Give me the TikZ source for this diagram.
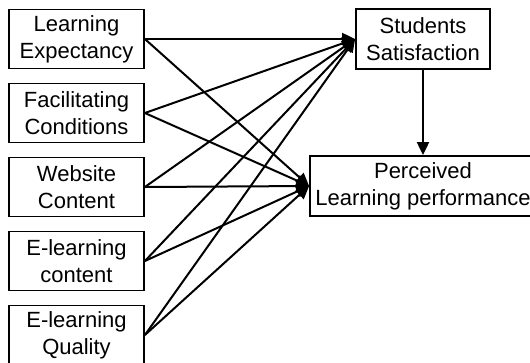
\documentclass[tikz,border=0pt]{standalone}
\usepackage{fontspec}
\setmainfont{Liberation Sans}
\usetikzlibrary{arrows.meta}
\begin{document}
\begin{tikzpicture}[x=1pt,y=-1pt]
	\tikzstyle{every node}+=[inner sep=0pt]
	\tikzstyle{factor}=[draw=black, line width=1.8pt, align=center, minimum width=135pt, minimum height=59pt, font=\fontsize{22}{27}\selectfont]
	\tikzstyle{link}=[black, line width=2pt, -{Triangle[length=13pt,width=12pt]}]
	\useasboundingbox (0,0) rectangle (530,362);
	\node [factor] (le) at (76.5,39) {Learning\\Expectancy};
	\node [factor] (fc) at (76.5,113) {Facilitating\\Conditions};
	\node [factor] (wc) at (76.5,187) {Website\\Content};
	\node [factor] (ec) at (76.5,261) {E-learning\\content};
	\node [factor] (eq) at (76.5,335) {E-learning\\Quality};
	\node [factor, minimum width=134pt, minimum height=60pt] (ss) at (423,39) {Students\\Satisfaction};
	\node [factor, minimum width=226pt, minimum height=60pt] (plp) at (423,186) {Perceived\\Learning performance};
	\draw [link] (le.east) -- (ss.west);
	\draw [link] (fc.east) -- (ss.west);
	\draw [link] (wc.east) -- (ss.west);
	\draw [link] (ec.east) -- (ss.west);
	\draw [link] (eq.east) -- (ss.west);
	\draw [link] (le.east) -- (plp.west);
	\draw [link] (fc.east) -- (plp.west);
	\draw [link] (wc.east) -- (plp.west);
	\draw [link] (ec.east) -- (plp.west);
	\draw [link] (eq.east) -- (plp.west);
	\draw [link] (ss.south) -- (plp.north);
\end{tikzpicture}
\end{document}
